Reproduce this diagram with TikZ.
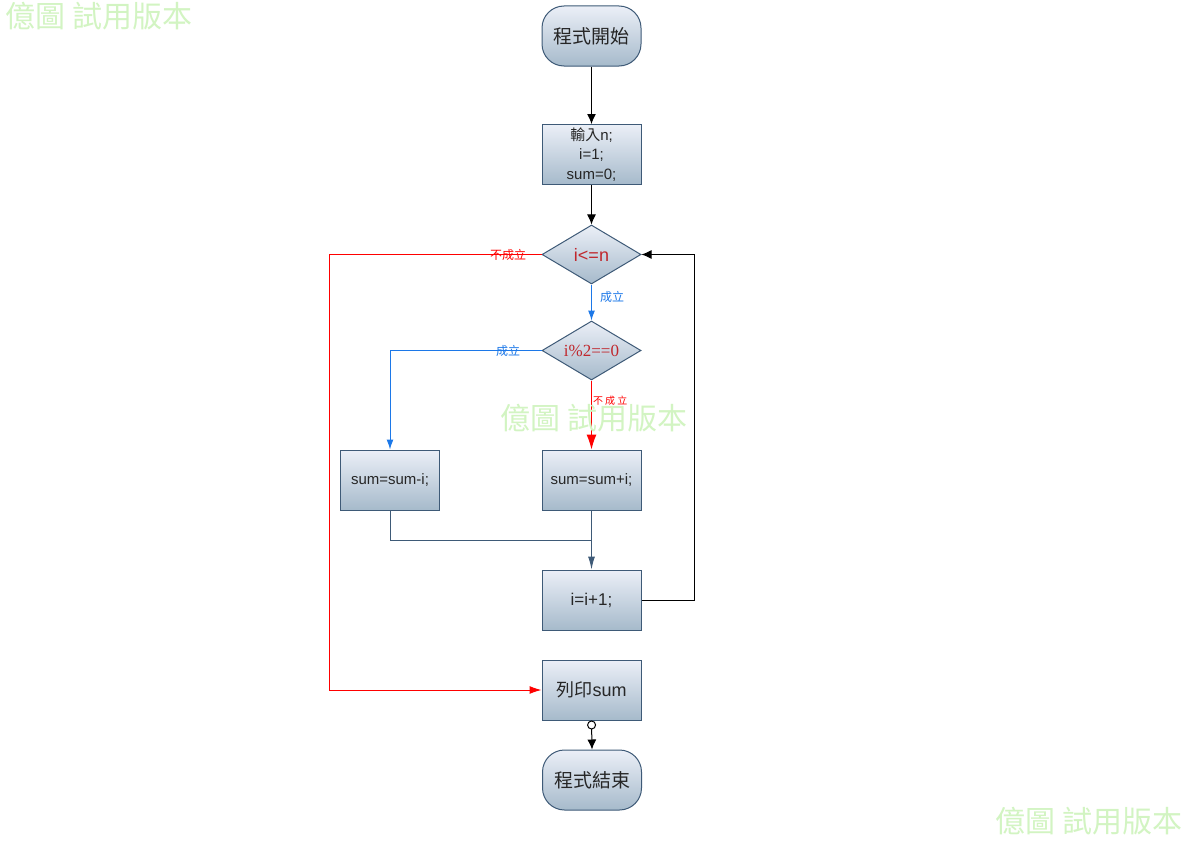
\documentclass[tikz,border=0pt]{standalone}
\usepackage{fontspec}
\setmainfont{Liberation Sans}
\newfontfamily\cjk{Noto Sans CJK TC}
\newfontfamily\serifnum{Liberation Serif}
\usetikzlibrary{arrows.meta,shapes.geometric}
\definecolor{boxtop}{HTML}{EBEFF7}
\definecolor{boxbot}{HTML}{A6BACB}
\definecolor{boxline}{HTML}{3E5A77}
\definecolor{condred}{HTML}{C0272D}
\definecolor{yesblue}{HTML}{1C78E8}
\definecolor{nored}{HTML}{FF0000}
\definecolor{wmgreen}{HTML}{D2F4C2}
\definecolor{txtgray}{HTML}{262626}
\tikzset{
  flowbox/.style={draw=boxline, line width=1bp, top color=boxtop, bottom color=boxbot,
    minimum width=99bp, minimum height=60bp, inner sep=2bp, text=txtgray,
    font=\fontsize{15bp}{19.5bp}\selectfont, align=center},
  termbox/.style={flowbox, rounded corners=22bp, font=\cjk\fontsize{19bp}{22bp}\selectfont},
  testbox/.style={flowbox, diamond, aspect=1.68, minimum width=99bp, minimum height=59bp,
    inner sep=0bp, text=condred},
  lbl/.style={inner sep=1bp, font=\cjk\fontsize{12bp}{14bp}\selectfont},
  wmark/.style={text=wmgreen, inner sep=0bp, font=\cjk\fontsize{30bp}{34bp}\selectfont},
}
\begin{document}
\begin{tikzpicture}[x=1bp,y=-1bp,line width=1bp,>={Latex[length=10bp,width=9bp]}]
  \useasboundingbox (0,0) rectangle (1189,841);
  % Node: start
  \node[termbox] (start) at (591.5,36) {程式開始};
  % Node: init
  \node[flowbox] (init) at (591.5,154.5) {{\cjk 輸入}n;\\i=1;\\sum=0;};
  % Node: loop
  \node[testbox, font=\fontsize{18bp}{21bp}\selectfont] (loop) at (591.5,254.5) {i<=n};
  % Node: even
  \node[testbox, font=\serifnum\fontsize{17bp}{20bp}\selectfont] (even) at (591.5,350.5) {i\%2==0};
  % Node: sub
  \node[flowbox] (sub) at (390,480) {sum=sum-i;};
  % Node: add
  \node[flowbox] (add) at (591.5,480) {sum=sum+i;};
  % Node: inc
  \node[flowbox, font=\fontsize{17bp}{20bp}\selectfont] (inc) at (591.5,600) {i=i+1;};
  % Node: print
  \node[flowbox, font=\fontsize{18bp}{21bp}\selectfont] (print) at (591.5,690) {{\cjk 列印}sum};
  % Node: stop
  \node[termbox] (stop) at (592,780) {程式結束};
  \coordinate (leftrail) at (329,254.5);
  \coordinate (merge) at (591.5,540);
  \coordinate (rightrail) at (694,600);
  % Edge: start -> init
  \draw[->] (start) -- (init);
  % Edge: init -> loop
  \draw[->] (init) -- (loop);
  % Edge: loop -> print
  \draw[nored, -{Latex[length=12bp,width=8bp]}] (loop.west)
    -- node[lbl, pos=0.157] {不成立} (leftrail) |- (print.west);
  % Edge: loop -> even
  \draw[yesblue, -{Latex[length=10bp,width=7bp]}] (loop.south)
    -- node[lbl, right=7bp, pos=0.35] {成立} (even.north);
  % Edge: even -> sub
  \draw[yesblue, -{Latex[length=10bp,width=7bp]}] (even.west)
    -| node[lbl, pos=0.11] {成立} (sub.north);
  % Edge: even -> add
  \draw[nored, -{Latex[length=15bp,width=10bp]}] (even.south)
    -- node[lbl, right=0bp, pos=0.3, font=\cjk\fontsize{10bp}{12bp}\selectfont] {不 成 立} (add.north);
  % Edge: sub -> inc
  \draw[boxline] (sub.south) |- (merge);
  % Edge: add -> inc
  \draw[boxline, -{Latex[length=13bp,width=7bp]}] (add.south) -- (inc.north);
  % Edge: inc -> loop
  \draw[->] (inc.east) -- (rightrail) |- (loop.east);
  % Edge: print -> stop
  \draw[{Circle[open,length=9bp,width=9bp]}->] (print.south) -- (stop.north);
  % watermarks
  \node[wmark, anchor=west] (wmtop) at (5,16) {億圖 試用版本};
  \node[wmark, anchor=west] (wmmid) at (500,418) {億圖 試用版本};
  \node[wmark, anchor=west] (wmbot) at (995,821) {億圖 試用版本};
\end{tikzpicture}
\end{document}
